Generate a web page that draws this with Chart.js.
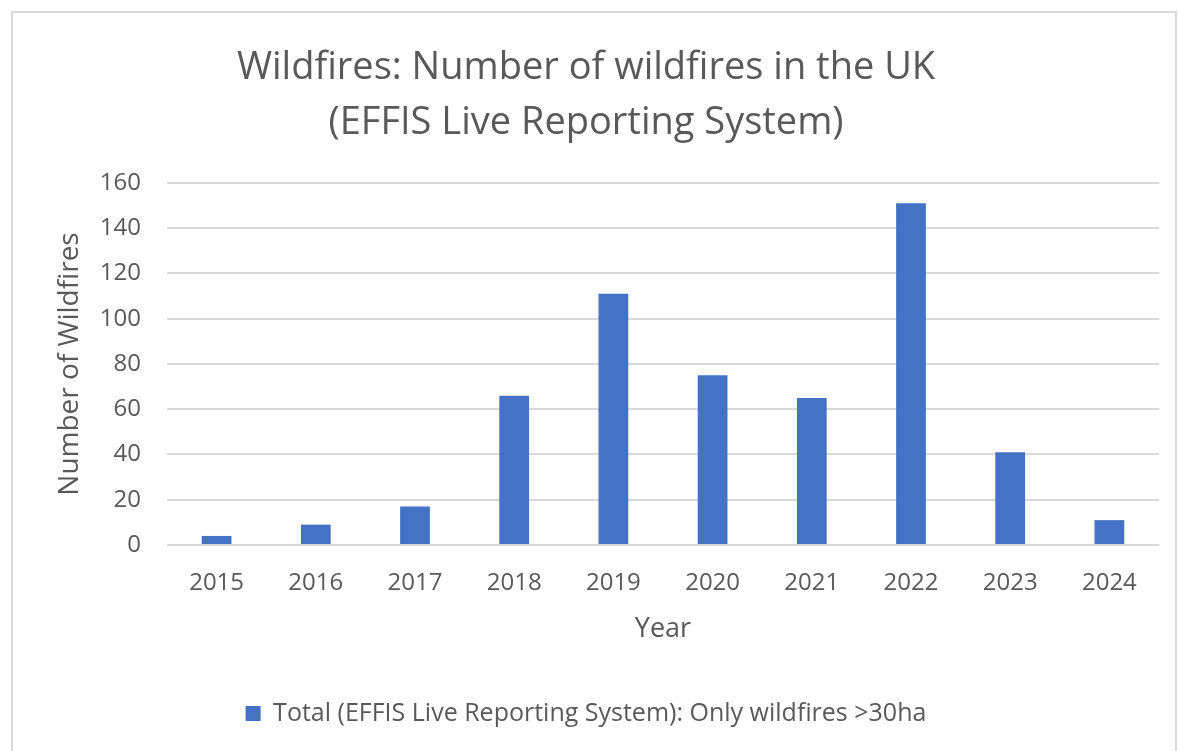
<!DOCTYPE html>
<html>
<head>
<meta charset="utf-8">
<script src="https://cdn.jsdelivr.net/npm/chart.js@4"></script>
<style>
    body { margin: 0; background: #ffffff; }
    #wrap {
        position: absolute;
        left: 11px; top: 11px;
        width: 1162px; height: 738px;
        border: 2px solid #d9d9d9;
        background: #ffffff;
    }
</style>
</head>
<body>
<div id="wrap"><canvas id="fireChart" width="1162" height="738"></canvas></div>
<script>
// Chart data
const years = ["2015", "2016", "2017", "2018", "2019", "2020", "2021", "2022", "2023", "2024"];
const wildfireCounts = [4, 9, 17, 66, 111, 75, 65, 151, 41, 11];
const titleLines = ["Wildfires: Number of wildfires in the UK", "(EFFIS Live Reporting System)"];
const seriesLabel = "Total (EFFIS Live Reporting System): Only wildfires >30ha";

const textColor = "#595959";
const gridColor = "#d9d9d9";
const fontFamily = "'Open Sans', sans-serif";

const ctx = document.getElementById("fireChart").getContext("2d");

const config = {
    type: "bar",
    data: {
        labels: years,
        datasets: [
            {
                label: seriesLabel,
                data: wildfireCounts,
                backgroundColor: "#4472c4",
                borderColor: "#4472c4",
                borderWidth: 0,
                barPercentage: 0.3,
                categoryPercentage: 1.0,
            },
        ],
    },
    options: {
        responsive: false,
        animation: false,
        layout: {
            padding: { left: 0, right: 16, top: 0, bottom: 15 },
        },
        scales: {
            x: {
                grid: { display: false },
                border: { display: false },
                ticks: {
                    color: textColor,
                    padding: 16,
                    font: { family: fontFamily, size: 24 },
                },
                title: {
                    display: true,
                    text: "Year",
                    color: textColor,
                    font: { family: fontFamily, size: 27 },
                    padding: { top: 0, bottom: 45 },
                },
                afterFit: scale => { scale.height = 146; },
            },
            y: {
                min: 0,
                max: 160,
                grid: {
                    color: gridColor,
                    lineWidth: 2,
                    drawTicks: false,
                },
                border: { display: false },
                ticks: {
                    stepSize: 20,
                    color: textColor,
                    padding: 26,
                    font: { family: fontFamily, size: 24 },
                },
                title: {
                    display: true,
                    text: "Number of Wildfires",
                    color: textColor,
                    font: { family: fontFamily, size: 28 },
                    padding: { top: 40, bottom: 0 },
                },
                afterFit: scale => { scale.width = 154; },
            },
        },
        plugins: {
            title: {
                display: true,
                text: titleLines,
                color: textColor,
                font: { family: fontFamily, size: 38, weight: "normal", lineHeight: 1.447 },
                padding: { top: 28, bottom: 32 },
            },
            legend: {
                position: "bottom",
                labels: {
                    color: textColor,
                    boxWidth: 15,
                    boxHeight: 15,
                    padding: 10,
                    font: { family: fontFamily, size: 25 },
                },
            },
            tooltip: { enabled: false },
        },
    },
};

new Chart(ctx, config);
</script>
</body>
</html>
